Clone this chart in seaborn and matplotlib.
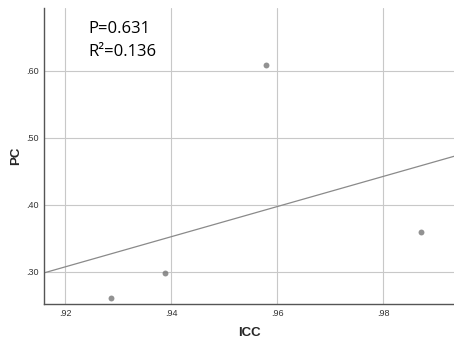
import matplotlib
matplotlib.use("Agg")
import matplotlib.pyplot as plt
import seaborn as sns
import pandas as pd

icc = [0.9286, 0.9388, 0.9579, 0.9871]
pc = [0.261, 0.298, 0.6085, 0.359]
x_ticks = [0.92, 0.94, 0.96, 0.98]
x_tick_labels = [".92", ".94", ".96", ".98"]
y_ticks = [0.30, 0.40, 0.50, 0.60]
y_tick_labels = [".30", ".40", ".50", ".60"]
annot_lines = ["P=0.631", "R²=0.136"]

df = pd.DataFrame({"ICC": icc, "PC": pc})

sns.set_style("white")
plt.rcParams["font.family"] = ["Liberation Sans", "DejaVu Sans"]

fig = plt.figure(figsize=(4.54, 3.42), dpi=100)
ax = fig.add_axes([0.098, 0.112, 0.902, 0.865])
ax.set_xlim(0.9161, 0.9933)
ax.set_ylim(0.252, 0.694)

ax.grid(True, color="#c8c8c8", linewidth=0.8)
ax.set_axisbelow(True)

sns.regplot(data=df, x="ICC", y="PC", ax=ax, ci=None, truncate=False,
            scatter_kws=dict(s=18, color="#777777", linewidths=0),
            line_kws=dict(color="#8a8a8a", linewidth=0.9))

ax.set_xlim(0.9161, 0.9933)
ax.set_ylim(0.252, 0.694)
ax.set_xticks(x_ticks)
ax.set_xticklabels(x_tick_labels, fontsize=6.5, color="#333333")
ax.set_yticks(y_ticks)
ax.set_yticklabels(y_tick_labels, fontsize=6.5, color="#333333")
ax.tick_params(length=0, pad=4)

for s in ["top", "right"]:
    ax.spines[s].set_visible(False)
for s in ["left", "bottom"]:
    ax.spines[s].set_color("#555555")
    ax.spines[s].set_linewidth(1.0)

ax.set_xlabel("ICC", fontsize=9.5, fontweight="bold", labelpad=6)
ax.set_ylabel("PC", fontsize=9.5, fontweight="bold", labelpad=3)

ax.text(0.106, 0.929, annot_lines[0], transform=ax.transAxes, fontsize=12,
        family=["Open Sans", "DejaVu Sans"], va="center", ha="left", color="black")
ax.text(0.106, 0.851, annot_lines[1], transform=ax.transAxes, fontsize=12,
        family=["Open Sans", "DejaVu Sans"], va="center", ha="left", color="black")

fig.savefig("out.png", dpi=100)
